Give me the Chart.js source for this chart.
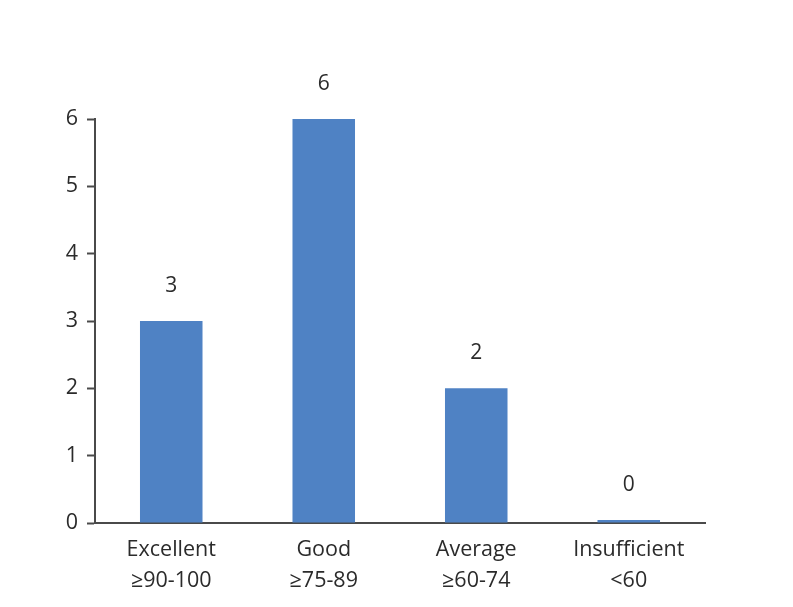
<!DOCTYPE html>
<html>
<head>
<meta charset="utf-8">
<script src="https://cdn.jsdelivr.net/npm/chart.js@4"></script>
<style>
html,body{margin:0;padding:0;background:#fff;}
#wrap{width:793px;height:607px;position:relative;}
</style>
</head>
<body>
<div id="wrap"><canvas id="c" width="793" height="607"></canvas></div>
<script>
const categories = [["Excellent","\u226590-100"],["Good","\u226575-89"],["Average","\u226560-74"],["Insufficient","<60"]];
const values = [3, 6, 2, 0];
const yTicks = [0, 1, 2, 3, 4, 5, 6];

const FONT = "'Open Sans', 'Noto Sans', sans-serif";
const TEXT = '#2b2b2b';
const AXIS = '#4a4a4a';

const valueLabels = {
  id: 'valueLabels',
  afterDatasetsDraw(chart) {
    const ctx = chart.ctx;
    const meta = chart.getDatasetMeta(0);
    ctx.save();
    ctx.font = '21px ' + FONT;
    ctx.fillStyle = TEXT;
    ctx.textAlign = 'center';
    ctx.textBaseline = 'middle';
    meta.data.forEach((bar, i) => {
      ctx.fillText(String(values[i]), bar.x, bar.y - 35);
    });
    ctx.restore();
  }
};

new Chart(document.getElementById('c'), {
  type: 'bar',
  data: {
    labels: categories,
    datasets: [{
      data: values,
      backgroundColor: '#4f82c4',
      borderWidth: 0,
      minBarLength: 3,
      barPercentage: 0.41,
      categoryPercentage: 1
    }]
  },
  options: {
    responsive: false,
    animation: false,
    layout: { padding: { top: 119, right: 88, left: 0, bottom: 0 } },
    plugins: { legend: { display: false }, tooltip: { enabled: false } },
    scales: {
      x: {
        grid: { display: true, drawOnChartArea: false, drawTicks: false, color: 'rgba(0,0,0,0)' },
        border: { display: true, color: AXIS, width: 2 },
        ticks: { color: TEXT, font: { family: FONT, size: 21.5, lineHeight: 1.45 }, padding: 11, maxRotation: 0, autoSkip: false },
        afterFit(scale) { scale.height = 607 - 523; }
      },
      y: {
        min: 0, max: 6,
        afterBuildTicks(scale) { scale.ticks = yTicks.map(v => ({ value: v })); },
        grid: { display: true, drawOnChartArea: false, drawTicks: true, tickLength: 8, color: AXIS, tickColor: AXIS, tickWidth: 2 },
        border: { display: true, color: AXIS, width: 2 },
        ticks: { color: TEXT, font: { family: FONT, size: 21.5 }, padding: 9 },
        afterFit(scale) { scale.width = 95; }
      }
    }
  },
  plugins: [valueLabels]
});
</script>
</body>
</html>
